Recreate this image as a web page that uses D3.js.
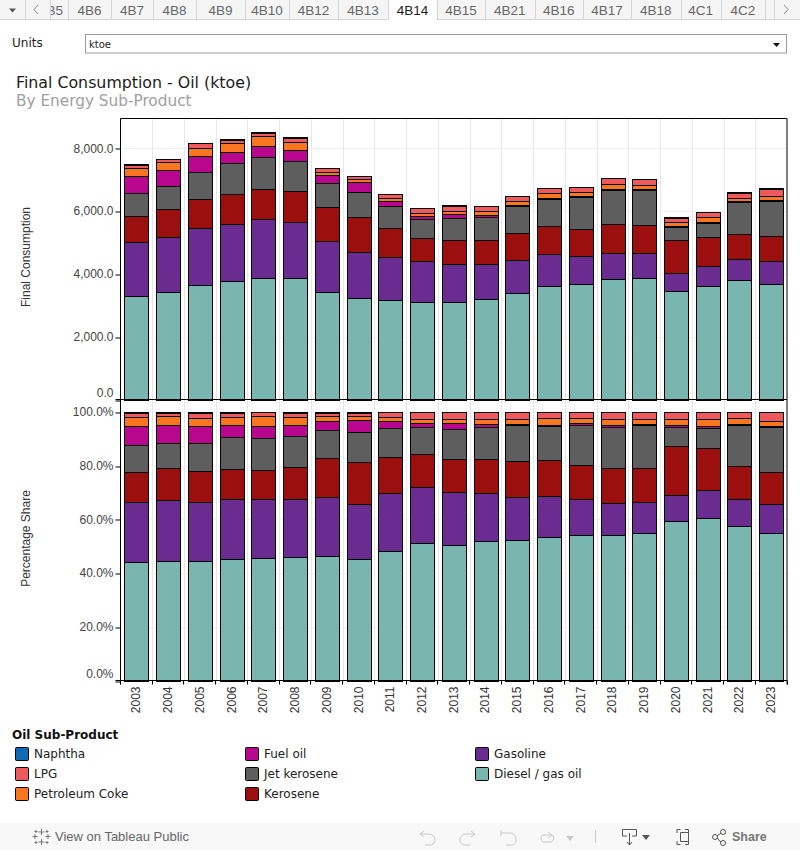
<!DOCTYPE html>
<html><head><meta charset="utf-8">
<script src="https://cdnjs.cloudflare.com/ajax/libs/d3/7.8.5/d3.min.js"></script>
<style>
html,body{margin:0;padding:0;background:#fff;overflow:hidden}
svg{display:block}
</style></head><body>
<svg id="c" width="800" height="850" font-family="'DejaVu Sans',sans-serif"></svg>
<script>
const years=[2003,2004,2005,2006,2007,2008,2009,2010,2011,2012,2013,2014,2015,2016,2017,2018,2019,2020,2021,2022,2023];
const diesel=[3312,3408,3631,3758,3885,3854,3408,3217,3153,3121,3121,3185,3376,3599,3663,3822,3854,3440,3599,3790,3694];
const gasoline=[1688,1752,1815,1847,1879,1783,1624,1465,1401,1274,1210,1115,1051,1019,892,828,796,573,637,669,732];
const kerosene=[828,892,924,924,924,1019,1083,1115,892,733,764,764,860,892,860,924,892,1051,924,796,796];
const jet=[764,733,860,987,1019,955,764,796,701,605,701,733,860,860,1019,1083,1115,414,446,1019,1115];
const fuelOil=[510,510,510,382,382,350,255,318,159,96,127,64,32,32,42,32,32,32,32,32,32];
const petCoke=[255,255,255,255,287,255,127,96,96,96,96,127,127,159,117,159,127,127,159,127,127];
const lpg=[127,96,159,127,127,127,96,96,127,159,159,159,159,159,159,191,191,159,159,159,223];
const naphtha=[20,20,20,20,20,20,20,20,4,2,2,2,2,2,2,2,2,2,2,2,2];

const seriesNames=["Diesel / gas oil","Gasoline","Kerosene","Jet kerosene","Fuel oil","Petroleum Coke","LPG","Naphtha"];
const seriesValues=[diesel,gasoline,kerosene,jet,fuelOil,petCoke,lpg,naphtha];
const seriesColors=["#79b6b0","#6b2c91","#9b0f0f","#5e5e5e","#b8068f","#f97520","#ee5a5c","#0f69b4"];
const legendRows=[["Naphtha","LPG","Petroleum Coke"],["Fuel oil","Jet kerosene","Kerosene"],["Gasoline","Diesel / gas oil"]];
const legendX=[15,245,475];
const topTicks=[0,2000,4000,6000,8000];
const pctTicks=[0,.2,.4,.6,.8,1];
const tabLabels=["4B5","4B6","4B7","4B8","4B9","4B10","4B12","4B13","4B14","4B15","4B21","4B16","4B17","4B18","4C1","4C2"];
const tabEdges=[34,68,111,153,196,245,289,338,388,437,485,534.5,583,631,680.5,721,765];

const svg=d3.select("#c");
const L=120.5,R=787,T1=118.5,B1=399.5,B2=680.5;
const x=d3.scaleBand().domain(years).range([L,R]).paddingInner(.25).paddingOuter(.125);
const y1=d3.scaleLinear().domain([0,8949]).range([B1,T1]);
const y2=d3.scaleLinear().domain([0,1.046]).range([B2,B1]);
const table=years.map((yr,i)=>{const o={year:yr};seriesNames.forEach((n,k)=>o[n]=seriesValues[k][i]);return o;});
const stackAbs=d3.stack().keys(seriesNames)(table);
const stackPct=d3.stack().keys(seriesNames).offset(d3.stackOffsetExpand)(table);
const LIB='"Liberation Sans",Arial,sans-serif';

// tab strip
const tabG=svg.append("g");
tabG.append("rect").attr("width",800).attr("height",19).attr("fill","#f5f5f5");
tabG.append("line").attr("x1",0).attr("x2",800).attr("y1",19.5).attr("y2",19.5).attr("stroke","#d4d4d4");
tabG.append("rect").attr("x",388.5).attr("width",48).attr("height",20).attr("fill","#fff");
svg.append("clipPath").attr("id","tabclip").append("rect").attr("x",50).attr("y",0).attr("width",750).attr("height",20);
tabG.selectAll("text.t").data(tabLabels).join("text").attr("class","t").attr("font-family",LIB)
 .attr("clip-path","url(#tabclip)")
 .attr("x",(d,i)=>(tabEdges[i]+tabEdges[i+1])/2).attr("y",14.5).attr("text-anchor","middle")
 .attr("font-size",13.5).attr("fill",d=>d==="4B14"?"#222":"#666").text(d=>d);
tabG.selectAll("line.sep").data([24.5,50,68,111,153,196,245,289,338,388,437,485,534.5,583,631,680.5,721,765,774]).join("line").attr("class","sep")
 .attr("x1",d=>Math.round(d)+.5).attr("x2",d=>Math.round(d)+.5).attr("y1",0).attr("y2",19).attr("stroke","#d4d4d4");
tabG.append("path").attr("d","M9 8.5h7l-3.5 4z").attr("fill","#555");
tabG.append("path").attr("d","M38 5l-4 4.5 4 4.5").attr("fill","none").attr("stroke","#888");
tabG.append("path").attr("d","M784 5l4 4.5-4 4.5").attr("fill","none").attr("stroke","#888");

// parameter
svg.append("text").attr("x",12).attr("y",47).attr("font-size",12).attr("fill","#222").text("Units");
svg.append("rect").attr("x",85.5).attr("y",34.5).attr("width",701).attr("height",18.5).attr("fill","#fff").attr("stroke","#9a9a9a");
svg.append("text").attr("x",89).attr("y",48).attr("font-size",10).attr("fill","#222").text("ktoe");
svg.append("path").attr("d","M773 43h7l-3.5 4z").attr("fill","#111");

// titles
svg.append("text").attr("x",16).attr("y",88).attr("font-size",15.8).attr("fill","#1a1a1a").text("Final Consumption - Oil (ktoe)");
svg.append("text").attr("x",16).attr("y",106).attr("font-size",15.3).attr("fill","#a0a0a0").text("By Energy Sub-Product");

// grid
const g=svg.append("g");
const edges=years.slice(1).map(d=>x(d)-x.step()*.125);
g.selectAll("line.v").data(edges).join("line").attr("class","v").attr("x1",d=>Math.round(d)+.5).attr("x2",d=>Math.round(d)+.5)
 .attr("y1",T1).attr("y2",B2+4).attr("stroke","#e6e6e6");
g.selectAll("line.h1").data(topTicks.slice(1)).join("line").attr("class","h1").attr("x1",L).attr("x2",R).attr("y1",d=>Math.round(y1(d))+.5).attr("y2",d=>Math.round(y1(d))+.5).attr("stroke","#f0f0f0");
g.selectAll("line.h2").data(pctTicks.slice(1)).join("line").attr("class","h2").attr("x1",L).attr("x2",R).attr("y1",d=>Math.round(y2(d))+.5).attr("y2",d=>Math.round(y2(d))+.5).attr("stroke","#f0f0f0");

// bars
function bars(stack,sc){
 const gg=svg.append("g");
 gg.selectAll("g").data(stack).join("g").attr("fill",(d,i)=>seriesColors[i])
  .selectAll("rect").data(d=>d).join("rect")
  .attr("x",d=>Math.round(x(d.data.year))+.5).attr("width",Math.round(x.bandwidth()))
  .attr("y",d=>Math.round(sc(d[1]))+.5).attr("height",d=>Math.max(0,Math.round(sc(d[0]))-Math.round(sc(d[1]))))
  .attr("stroke","#000").attr("stroke-width",1);
}
bars(stackAbs,y1);bars(stackPct,y2);

// axes
function yAxis(sc,ticks,fmt){
 const a=svg.append("g").attr("transform",`translate(${L},0)`).call(d3.axisLeft(sc).tickValues(ticks).tickFormat(fmt).tickSize(5).tickPadding(2));
 a.select(".domain").remove();
 a.selectAll("line").attr("stroke","#000").attr("y1",d=>Math.round(sc(d))+.5-sc(d)).attr("y2",d=>Math.round(sc(d))+.5-sc(d));
 a.selectAll("text").attr("font-size",12).attr("fill","#444").attr("font-family",LIB)
  .attr("dy",d=>d===0?"-0.25em":"0.32em");
}
yAxis(y1,topTicks,d3.format(",.1f"));
yAxis(y2,pctTicks,d3.format(".1%"));
const xa=svg.append("g").attr("transform",`translate(0,${B2})`).call(d3.axisBottom(x).tickSize(0).tickPadding(0));
xa.select(".domain").remove();
xa.selectAll("text").attr("font-size",12).attr("fill","#333").attr("font-family",LIB)
 .attr("text-anchor","end").attr("dy",null).attr("y",0).attr("transform","translate(4,6) rotate(-90)");
g.selectAll("line.xt").data([L,...edges,R]).join("line").attr("class","xt").attr("x1",d=>Math.round(d-.5)+.5).attr("x2",d=>Math.round(d-.5)+.5).attr("y1",B2).attr("y2",B2+4).attr("stroke","#000");
const frame=svg.append("g").attr("stroke","#000").attr("fill","none");
frame.append("path").attr("d",`M${L} ${B2+4}V${T1}H${R}V${B2+4}`);
frame.append("path").attr("d",`M${L-5} ${B1}H${R}M${L-5} ${B2}H${R}`);
svg.append("text").attr("font-family",LIB).attr("transform",`translate(30,257) rotate(-90)`).attr("text-anchor","middle").attr("font-size",12).attr("fill","#333").text("Final Consumption");
svg.append("text").attr("font-family",LIB).attr("transform",`translate(30,538.5) rotate(-90)`).attr("text-anchor","middle").attr("font-size",12).attr("fill","#333").text("Percentage Share");

// legend
svg.append("text").attr("x",12).attr("y",739).attr("font-size",12).attr("font-weight","bold").attr("fill","#111").text("Oil Sub-Product");
legendRows.forEach((col,c)=>col.forEach((name,r)=>{
 const yy=747.5+r*20;
 svg.append("rect").attr("x",legendX[c]+.5).attr("y",yy).attr("width",13).attr("height",13).attr("rx",1)
  .attr("fill",seriesColors[seriesNames.indexOf(name)]).attr("stroke","#000");
 svg.append("text").attr("x",legendX[c]+19).attr("y",yy+10.5).attr("font-size",12).attr("fill","#222").text(name);
}));

// toolbar
const tb=svg.append("g");
tb.append("rect").attr("y",823).attr("width",800).attr("height",27).attr("fill","#f8f8f8");
tb.append("g").attr("stroke","#777").attr("fill","none").selectAll("path").data([
 "M41.5 829v6M38.5 832h6","M41.5 839v6M38.5 842h6","M35 834v5M32.5 836.5h5","M48 834v5M45.5 836.5h5","M36 830v3M34.5 831.5h3","M47 830v3M45.5 831.5h3","M36 841v3M34.5 842.5h3","M47 841v3M45.5 842.5h3"
]).join("path").attr("d",d=>d);
tb.append("text").attr("font-family",LIB).attr("x",55).attr("y",841).attr("font-size",13).attr("fill","#666").text("View on Tableau Public");
tb.append("g").attr("stroke","#c8c8c8").attr("fill","none").selectAll("path").data([
 "M424 831l-4 3 4 3M420 834h9a6 6 0 0 1 6 6a5 5 0 0 1-6 5h-4",
 "M471 831l4 3-4 3M475 834h-9a6 6 0 0 0-6 6a5 5 0 0 0 6 5h4",
 "M501 830v6M501 833h9a6 6 0 0 1 6 6a5 5 0 0 1-6 6h-4",
 "M552 835h-9a4 4 0 0 0 0 7h8a4 4 0 0 0 1-7M548 832l4 3-4 3",
 "M595.5 830v13"
]).join("path").attr("d",d=>d);
tb.append("path").attr("d","M566 836h8l-4 5z").attr("fill","#c8c8c8");
tb.append("g").attr("stroke","#555").attr("fill","none").selectAll("path").data([
 "M627 836h-4.5v-6.5h14v6.5h-4.5M629.5 833v12M627 842l2.5 3 2.5-3",
 "M677 833v-3.5h3.5M685 829.5h3.5v3.5M688.5 841v3.5h-3.5M680.5 844.5h-3.5v-3.5",
 "M680.5 832.5h8v9h-8z"
]).join("path").attr("d",d=>d);
tb.append("path").attr("d","M642 835h8l-4 5z").attr("fill","#555");
tb.append("g").attr("stroke","#555").attr("fill","#f8f8f8").selectAll("circle").data([[715,837],[723,832],[723,843]]).join("circle").attr("cx",d=>d[0]).attr("cy",d=>d[1]).attr("r",2.5);
tb.append("path").attr("d","M717 836l4-3M717 838l4 4").attr("stroke","#555");
tb.append("text").attr("font-family",LIB).attr("x",732).attr("y",841).attr("font-size",12.5).attr("font-weight","bold").attr("fill","#777").text("Share");
</script></body></html>
